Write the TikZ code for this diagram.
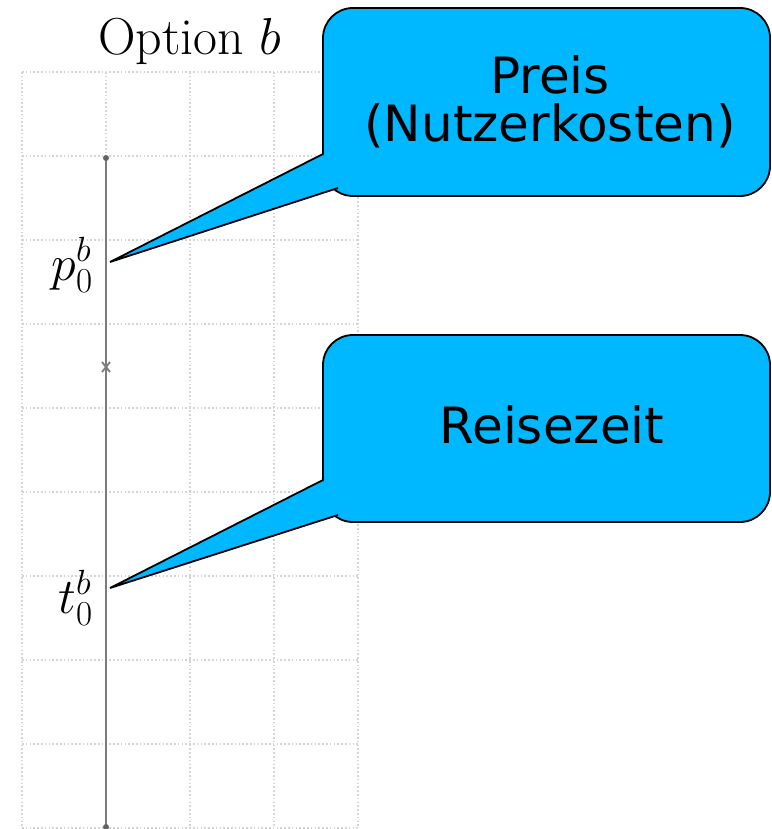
\RequirePackage{fix-cm}
\documentclass[tikz,border=0pt]{standalone}
\usepackage{fontspec}
\newfontfamily\bubblefont{DejaVu Sans}
\definecolor{bubbleblue}{RGB}{0,184,255}
\definecolor{gridgray}{RGB}{212,212,212}
\definecolor{axisgray}{RGB}{125,125,125}
\tikzset{
  gridline/.style={gridgray, line width=1.3pt, dash pattern=on 1.6pt off 2.2pt},
  axisline/.style={axisgray, line width=2.2pt},
  bubble/.style={draw=black, fill=bubbleblue, line width=1.8pt,
    rounded corners=30pt, minimum width=447pt, inner sep=0pt},
  bubbletext/.style={font=\bubblefont\fontsize{50}{48}\selectfont, align=center, inner sep=0pt},
  pointerfill/.style={fill=bubbleblue},
  pointeredge/.style={draw=black, line width=1.8pt, line join=miter},
  mathlabel/.style={font=\fontsize{50}{52}\selectfont, inner sep=0pt, anchor=base east},
}
\begin{document}
\begin{tikzpicture}[x=1pt,y=-1pt]
\useasboundingbox (0,0) rectangle (771,829);

% dotted background grid
\foreach \gx in {22,106,190,274,358}
  \draw[gridline] (\gx,72) -- (\gx,828);
\foreach \gy in {72,156,240,324,408,492,576,660,744,828}
  \draw[gridline] (22,\gy) -- (358,\gy);

% vertical axis with end points and tick
\coordinate (axtop) at (106,158);
\coordinate (axbot) at (106,827);
\coordinate (axtick) at (106,367);
\draw[axisline] (axtop) -- (axbot);
\fill[axisgray!80!black] (axtop) circle (3pt);
\fill[axisgray!80!black] (axbot) circle (3pt);
\draw[axisgray, line width=1.8pt] ([shift={(-4,-5)}]axtick) -- ([shift={(4,5)}]axtick)
                                 ([shift={(4,-5)}]axtick) -- ([shift={(-4,5)}]axtick);

% title and axis labels
\node[font=\fontsize{52}{54}\selectfont, anchor=base, inner sep=0pt] (title) at (190,55) {Option $b$};
\node[mathlabel] (plabel) at (93,280) {$p_0^b$};
\node[mathlabel] (tlabel) at (93,613) {$t_0^b$};

% price callout
\node[bubble, minimum height=188pt] (c1) at (546.5,102) {};
\coordinate (c1tip) at (110,262);
\coordinate (c1a) at (323,154);
\coordinate (c1b) at (338,188);
\fill[pointerfill] (c1tip) -- (c1a) -- (c1b) -- cycle;
\draw[pointeredge] (c1a) -- (c1tip) -- (c1b);
\node[bubbletext] (c1text) at (550,102) {Preis\\(Nutzerkosten)};

% travel time callout
\node[bubble, minimum height=187pt] (c2) at (546.5,428.5) {};
\coordinate (c2tip) at (110,588);
\coordinate (c2a) at (323,480);
\coordinate (c2b) at (338,515);
\fill[pointerfill] (c2tip) -- (c2a) -- (c2b) -- cycle;
\draw[pointeredge] (c2a) -- (c2tip) -- (c2b);
\node[bubbletext, anchor=base] (c2text) at (552,443) {Reisezeit};
\end{tikzpicture}
\end{document}
